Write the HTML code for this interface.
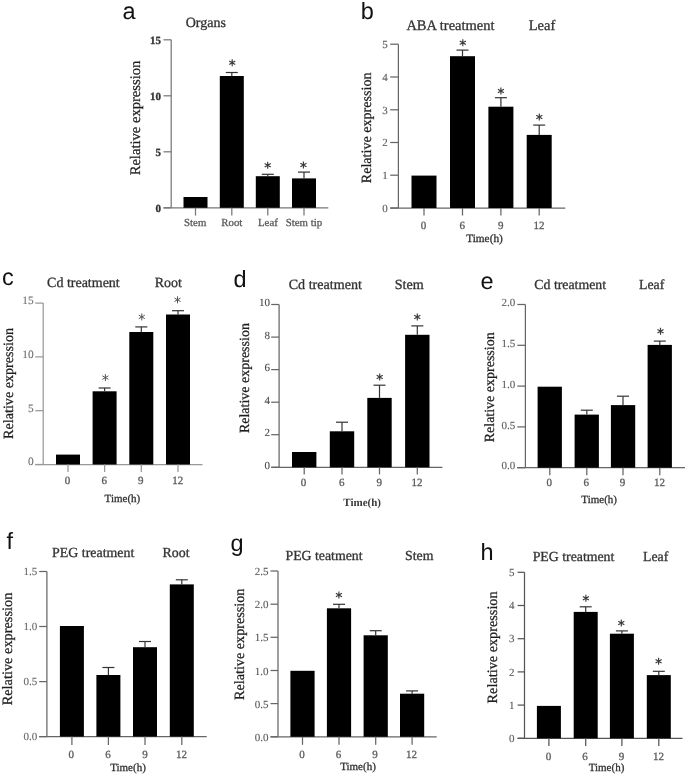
<!DOCTYPE html>
<html><head><meta charset="utf-8"><title>Figure</title>
<style>html,body{margin:0;padding:0;background:#fff;} svg{display:block;will-change:transform;} text{text-rendering:geometricPrecision;}</style></head>
<body><svg width="685" height="775" viewBox="0 0 685 775">
<rect width="685" height="775" fill="#fff"/>
<text x="122.6" y="19.4" font-family="&quot;Liberation Sans&quot;, sans-serif" font-size="23.5" font-weight="normal" text-anchor="start" fill="#111" stroke="#111" stroke-width="0" >a</text>
<text x="205.8" y="27.2" font-family="&quot;Liberation Serif&quot;, serif" font-size="14" font-weight="normal" text-anchor="middle" fill="#333" stroke="#333" stroke-width="0.3" >Organs</text>
<line x1="163.5" y1="207.8" x2="171.2" y2="207.8" stroke="#777" stroke-width="1.25"/>
<text x="160.9" y="211.5" font-family="&quot;Liberation Serif&quot;, serif" font-size="11" font-weight="bold" text-anchor="end" fill="#333" stroke="#333" stroke-width="0.3" >0</text>
<line x1="163.5" y1="151.8" x2="171.2" y2="151.8" stroke="#777" stroke-width="1.25"/>
<text x="160.9" y="155.5" font-family="&quot;Liberation Serif&quot;, serif" font-size="11" font-weight="bold" text-anchor="end" fill="#333" stroke="#333" stroke-width="0.3" >5</text>
<line x1="163.5" y1="95.8" x2="171.2" y2="95.8" stroke="#777" stroke-width="1.25"/>
<text x="160.9" y="99.5" font-family="&quot;Liberation Serif&quot;, serif" font-size="11" font-weight="bold" text-anchor="end" fill="#333" stroke="#333" stroke-width="0.3" >10</text>
<line x1="163.5" y1="39.8" x2="171.2" y2="39.8" stroke="#777" stroke-width="1.25"/>
<text x="160.9" y="43.5" font-family="&quot;Liberation Serif&quot;, serif" font-size="11" font-weight="bold" text-anchor="end" fill="#333" stroke="#333" stroke-width="0.3" >15</text>
<line x1="171.2" y1="39.8" x2="171.2" y2="207.8" stroke="#777" stroke-width="1.25"/>
<line x1="163.5" y1="207.8" x2="328.3" y2="207.8" stroke="#777" stroke-width="1.25"/>
<rect x="183.5" y="197.0" width="24.0" height="10.8" fill="#000"/>
<line x1="195.5" y1="207.8" x2="195.5" y2="215.6" stroke="#777" stroke-width="1.25"/>
<rect x="219.8" y="76.0" width="24.0" height="131.8" fill="#000"/>
<line x1="231.8" y1="72.5" x2="231.8" y2="76.0" stroke="#333" stroke-width="1.2"/>
<line x1="225.8" y1="72.5" x2="237.8" y2="72.5" stroke="#333" stroke-width="1.2"/>
<path d="M232.20 66.30L232.20 59.30M229.17 64.55L235.23 61.05M229.17 61.05L235.23 64.55" stroke="#3a3a3a" stroke-width="1.15" fill="none"/>
<line x1="231.8" y1="207.8" x2="231.8" y2="215.6" stroke="#777" stroke-width="1.25"/>
<rect x="255.8" y="176.2" width="24.0" height="31.6" fill="#000"/>
<line x1="267.8" y1="174.3" x2="267.8" y2="176.2" stroke="#333" stroke-width="1.2"/>
<line x1="261.8" y1="174.3" x2="273.8" y2="174.3" stroke="#333" stroke-width="1.2"/>
<path d="M267.70 168.80L267.70 161.80M264.67 167.05L270.73 163.55M264.67 163.55L270.73 167.05" stroke="#3a3a3a" stroke-width="1.15" fill="none"/>
<line x1="267.8" y1="207.8" x2="267.8" y2="215.6" stroke="#777" stroke-width="1.25"/>
<rect x="292.0" y="178.4" width="24.0" height="29.4" fill="#000"/>
<line x1="304.0" y1="172.1" x2="304.0" y2="178.4" stroke="#333" stroke-width="1.2"/>
<line x1="298.0" y1="172.1" x2="310.0" y2="172.1" stroke="#333" stroke-width="1.2"/>
<path d="M303.40 168.50L303.40 161.50M300.37 166.75L306.43 163.25M300.37 163.25L306.43 166.75" stroke="#3a3a3a" stroke-width="1.15" fill="none"/>
<line x1="304.0" y1="207.8" x2="304.0" y2="215.6" stroke="#777" stroke-width="1.25"/>
<text x="195.2" y="225.8" font-family="&quot;Liberation Serif&quot;, serif" font-size="10.8" font-weight="normal" text-anchor="middle" fill="#5a5a5a" stroke="#5a5a5a" stroke-width="0.3" >Stem</text>
<text x="231.8" y="225.8" font-family="&quot;Liberation Serif&quot;, serif" font-size="10.8" font-weight="normal" text-anchor="middle" fill="#5a5a5a" stroke="#5a5a5a" stroke-width="0.3" >Root</text>
<text x="267.9" y="225.8" font-family="&quot;Liberation Serif&quot;, serif" font-size="10.8" font-weight="normal" text-anchor="middle" fill="#5a5a5a" stroke="#5a5a5a" stroke-width="0.3" >Leaf</text>
<text x="303.9" y="225.8" font-family="&quot;Liberation Serif&quot;, serif" font-size="10.8" font-weight="normal" text-anchor="middle" fill="#5a5a5a" stroke="#5a5a5a" stroke-width="0.3" >Stem tip</text>
<text x="0" y="0" font-family="&quot;Liberation Serif&quot;, serif" font-size="14.6" text-anchor="middle" fill="#1e1e1e" stroke="#1e1e1e" stroke-width="0.25" transform="translate(139.9,118.0) rotate(-90)">Relative expression</text>
<text x="360.8" y="18.5" font-family="&quot;Liberation Sans&quot;, sans-serif" font-size="23.5" font-weight="normal" text-anchor="start" fill="#111" stroke="#111" stroke-width="0" >b</text>
<text x="450.5" y="29.6" font-family="&quot;Liberation Serif&quot;, serif" font-size="14.5" font-weight="normal" text-anchor="middle" fill="#333" stroke="#333" stroke-width="0.3" >ABA treatment</text>
<text x="542.0" y="29.6" font-family="&quot;Liberation Serif&quot;, serif" font-size="14.5" font-weight="normal" text-anchor="middle" fill="#333" stroke="#333" stroke-width="0.3" >Leaf</text>
<line x1="390.2" y1="208.0" x2="398.4" y2="208.0" stroke="#666" stroke-width="1.25"/>
<text x="387.7" y="211.7" font-family="&quot;Liberation Serif&quot;, serif" font-size="11" font-weight="normal" text-anchor="end" fill="#5a5a5a" stroke="#5a5a5a" stroke-width="0.12" >0</text>
<line x1="390.2" y1="175.2" x2="398.4" y2="175.2" stroke="#666" stroke-width="1.25"/>
<text x="387.7" y="178.9" font-family="&quot;Liberation Serif&quot;, serif" font-size="11" font-weight="normal" text-anchor="end" fill="#5a5a5a" stroke="#5a5a5a" stroke-width="0.12" >1</text>
<line x1="390.2" y1="142.5" x2="398.4" y2="142.5" stroke="#666" stroke-width="1.25"/>
<text x="387.7" y="146.2" font-family="&quot;Liberation Serif&quot;, serif" font-size="11" font-weight="normal" text-anchor="end" fill="#5a5a5a" stroke="#5a5a5a" stroke-width="0.12" >2</text>
<line x1="390.2" y1="109.8" x2="398.4" y2="109.8" stroke="#666" stroke-width="1.25"/>
<text x="387.7" y="113.5" font-family="&quot;Liberation Serif&quot;, serif" font-size="11" font-weight="normal" text-anchor="end" fill="#5a5a5a" stroke="#5a5a5a" stroke-width="0.12" >3</text>
<line x1="390.2" y1="77.0" x2="398.4" y2="77.0" stroke="#666" stroke-width="1.25"/>
<text x="387.7" y="80.7" font-family="&quot;Liberation Serif&quot;, serif" font-size="11" font-weight="normal" text-anchor="end" fill="#5a5a5a" stroke="#5a5a5a" stroke-width="0.12" >4</text>
<line x1="390.2" y1="44.2" x2="398.4" y2="44.2" stroke="#666" stroke-width="1.25"/>
<text x="387.7" y="48.0" font-family="&quot;Liberation Serif&quot;, serif" font-size="11" font-weight="normal" text-anchor="end" fill="#5a5a5a" stroke="#5a5a5a" stroke-width="0.12" >5</text>
<line x1="398.4" y1="44.2" x2="398.4" y2="208.0" stroke="#666" stroke-width="1.25"/>
<line x1="390.2" y1="208.0" x2="565.3" y2="208.0" stroke="#666" stroke-width="1.25"/>
<rect x="411.5" y="175.6" width="25.0" height="32.4" fill="#000"/>
<line x1="424.0" y1="208.0" x2="424.0" y2="215.5" stroke="#666" stroke-width="1.25"/>
<rect x="450.0" y="56.2" width="25.0" height="151.8" fill="#000"/>
<line x1="462.5" y1="50.1" x2="462.5" y2="56.2" stroke="#333" stroke-width="1.2"/>
<line x1="456.5" y1="50.1" x2="468.5" y2="50.1" stroke="#333" stroke-width="1.2"/>
<path d="M462.80 46.20L462.80 39.20M459.77 44.45L465.83 40.95M459.77 40.95L465.83 44.45" stroke="#3a3a3a" stroke-width="1.15" fill="none"/>
<line x1="462.5" y1="208.0" x2="462.5" y2="215.5" stroke="#666" stroke-width="1.25"/>
<rect x="488.4" y="106.7" width="25.0" height="101.3" fill="#000"/>
<line x1="500.9" y1="97.7" x2="500.9" y2="106.7" stroke="#333" stroke-width="1.2"/>
<line x1="494.9" y1="97.7" x2="506.9" y2="97.7" stroke="#333" stroke-width="1.2"/>
<path d="M500.90 94.50L500.90 87.50M497.87 92.75L503.93 89.25M497.87 89.25L503.93 92.75" stroke="#3a3a3a" stroke-width="1.15" fill="none"/>
<line x1="500.9" y1="208.0" x2="500.9" y2="215.5" stroke="#666" stroke-width="1.25"/>
<rect x="526.7" y="134.9" width="25.0" height="73.1" fill="#000"/>
<line x1="539.2" y1="125.1" x2="539.2" y2="134.9" stroke="#333" stroke-width="1.2"/>
<line x1="533.2" y1="125.1" x2="545.2" y2="125.1" stroke="#333" stroke-width="1.2"/>
<path d="M539.30 120.50L539.30 113.50M536.27 118.75L542.33 115.25M536.27 115.25L542.33 118.75" stroke="#3a3a3a" stroke-width="1.15" fill="none"/>
<line x1="539.2" y1="208.0" x2="539.2" y2="215.5" stroke="#666" stroke-width="1.25"/>
<text x="423.5" y="229.0" font-family="&quot;Liberation Serif&quot;, serif" font-size="11" font-weight="normal" text-anchor="middle" fill="#5a5a5a" stroke="#5a5a5a" stroke-width="0.3" >0</text>
<text x="462.3" y="229.0" font-family="&quot;Liberation Serif&quot;, serif" font-size="11" font-weight="normal" text-anchor="middle" fill="#5a5a5a" stroke="#5a5a5a" stroke-width="0.3" >6</text>
<text x="500.7" y="229.0" font-family="&quot;Liberation Serif&quot;, serif" font-size="11" font-weight="normal" text-anchor="middle" fill="#5a5a5a" stroke="#5a5a5a" stroke-width="0.3" >9</text>
<text x="539.0" y="229.0" font-family="&quot;Liberation Serif&quot;, serif" font-size="11" font-weight="normal" text-anchor="middle" fill="#5a5a5a" stroke="#5a5a5a" stroke-width="0.3" >12</text>
<text x="484.5" y="242.0" font-family="&quot;Liberation Serif&quot;, serif" font-size="11.3" font-weight="normal" text-anchor="middle" fill="#333" stroke="#333" stroke-width="0.3" >Time(h)</text>
<text x="0" y="0" font-family="&quot;Liberation Serif&quot;, serif" font-size="14.1" text-anchor="middle" fill="#1e1e1e" stroke="#1e1e1e" stroke-width="0.25" transform="translate(371.1,127.9) rotate(-90)">Relative expression</text>
<text x="2.1" y="285.1" font-family="&quot;Liberation Sans&quot;, sans-serif" font-size="23.5" font-weight="normal" text-anchor="start" fill="#111" stroke="#111" stroke-width="0" >c</text>
<text x="83.4" y="287.1" font-family="&quot;Liberation Serif&quot;, serif" font-size="14" font-weight="normal" text-anchor="middle" fill="#333" stroke="#333" stroke-width="0.3" >Cd treatment</text>
<text x="168.3" y="287.1" font-family="&quot;Liberation Serif&quot;, serif" font-size="14" font-weight="normal" text-anchor="middle" fill="#333" stroke="#333" stroke-width="0.3" >Root</text>
<line x1="35.2" y1="464.5" x2="43.2" y2="464.5" stroke="#999" stroke-width="1.25"/>
<text x="33.7" y="465.3" font-family="&quot;Liberation Serif&quot;, serif" font-size="11.4" font-weight="normal" text-anchor="end" fill="#707070" stroke="#707070" stroke-width="0.12" >0</text>
<line x1="35.2" y1="410.7" x2="43.2" y2="410.7" stroke="#999" stroke-width="1.25"/>
<text x="33.7" y="411.5" font-family="&quot;Liberation Serif&quot;, serif" font-size="11.4" font-weight="normal" text-anchor="end" fill="#707070" stroke="#707070" stroke-width="0.12" >5</text>
<line x1="35.2" y1="356.9" x2="43.2" y2="356.9" stroke="#999" stroke-width="1.25"/>
<text x="33.7" y="357.7" font-family="&quot;Liberation Serif&quot;, serif" font-size="11.4" font-weight="normal" text-anchor="end" fill="#707070" stroke="#707070" stroke-width="0.12" >10</text>
<line x1="35.2" y1="303.1" x2="43.2" y2="303.1" stroke="#999" stroke-width="1.25"/>
<text x="33.7" y="303.9" font-family="&quot;Liberation Serif&quot;, serif" font-size="11.4" font-weight="normal" text-anchor="end" fill="#707070" stroke="#707070" stroke-width="0.12" >15</text>
<line x1="43.2" y1="303.1" x2="43.2" y2="464.5" stroke="#999" stroke-width="1.25"/>
<line x1="35.2" y1="464.5" x2="202.5" y2="464.5" stroke="#999" stroke-width="1.25"/>
<rect x="56.0" y="454.6" width="24.0" height="9.9" fill="#000"/>
<line x1="68.0" y1="464.5" x2="68.0" y2="472.0" stroke="#999" stroke-width="1.25"/>
<rect x="92.6" y="391.3" width="24.0" height="73.2" fill="#000"/>
<line x1="104.6" y1="388.0" x2="104.6" y2="391.3" stroke="#333" stroke-width="1.2"/>
<line x1="98.6" y1="388.0" x2="110.6" y2="388.0" stroke="#333" stroke-width="1.2"/>
<path d="M105.40 381.10L105.40 374.10M102.37 379.35L108.43 375.85M102.37 375.85L108.43 379.35" stroke="#555" stroke-width="1.0" fill="none"/>
<line x1="104.6" y1="464.5" x2="104.6" y2="472.0" stroke="#999" stroke-width="1.25"/>
<rect x="129.3" y="332.0" width="24.0" height="132.5" fill="#000"/>
<line x1="141.3" y1="326.9" x2="141.3" y2="332.0" stroke="#333" stroke-width="1.2"/>
<line x1="135.3" y1="326.9" x2="147.3" y2="326.9" stroke="#333" stroke-width="1.2"/>
<path d="M141.80 320.40L141.80 313.40M138.77 318.65L144.83 315.15M138.77 315.15L144.83 318.65" stroke="#555" stroke-width="1.0" fill="none"/>
<line x1="141.3" y1="464.5" x2="141.3" y2="472.0" stroke="#999" stroke-width="1.25"/>
<rect x="166.0" y="314.5" width="24.0" height="150.0" fill="#000"/>
<line x1="178.0" y1="310.7" x2="178.0" y2="314.5" stroke="#333" stroke-width="1.2"/>
<line x1="172.0" y1="310.7" x2="184.0" y2="310.7" stroke="#333" stroke-width="1.2"/>
<path d="M177.50 303.30L177.50 296.30M174.47 301.55L180.53 298.05M174.47 298.05L180.53 301.55" stroke="#555" stroke-width="1.0" fill="none"/>
<line x1="178.0" y1="464.5" x2="178.0" y2="472.0" stroke="#999" stroke-width="1.25"/>
<text x="67.6" y="484.3" font-family="&quot;Liberation Serif&quot;, serif" font-size="11" font-weight="normal" text-anchor="middle" fill="#5a5a5a" stroke="#5a5a5a" stroke-width="0.3" >0</text>
<text x="104.3" y="484.3" font-family="&quot;Liberation Serif&quot;, serif" font-size="11" font-weight="normal" text-anchor="middle" fill="#5a5a5a" stroke="#5a5a5a" stroke-width="0.3" >6</text>
<text x="140.8" y="484.3" font-family="&quot;Liberation Serif&quot;, serif" font-size="11" font-weight="normal" text-anchor="middle" fill="#5a5a5a" stroke="#5a5a5a" stroke-width="0.3" >9</text>
<text x="177.8" y="484.3" font-family="&quot;Liberation Serif&quot;, serif" font-size="11" font-weight="normal" text-anchor="middle" fill="#5a5a5a" stroke="#5a5a5a" stroke-width="0.3" >12</text>
<text x="122.4" y="502.3" font-family="&quot;Liberation Serif&quot;, serif" font-size="11" font-weight="normal" text-anchor="middle" fill="#333" stroke="#333" stroke-width="0.3" >Time(h)</text>
<text x="0" y="0" font-family="&quot;Liberation Serif&quot;, serif" font-size="14.15" text-anchor="middle" fill="#1e1e1e" stroke="#1e1e1e" stroke-width="0.25" transform="translate(12.7,383.4) rotate(-90)">Relative expression</text>
<text x="233.6" y="287.2" font-family="&quot;Liberation Sans&quot;, sans-serif" font-size="23.5" font-weight="normal" text-anchor="start" fill="#111" stroke="#111" stroke-width="0" >d</text>
<text x="325.3" y="289.3" font-family="&quot;Liberation Serif&quot;, serif" font-size="14.1" font-weight="normal" text-anchor="middle" fill="#333" stroke="#333" stroke-width="0.3" >Cd treatment</text>
<text x="409.2" y="289.3" font-family="&quot;Liberation Serif&quot;, serif" font-size="14.1" font-weight="normal" text-anchor="middle" fill="#333" stroke="#333" stroke-width="0.3" >Stem</text>
<line x1="271.2" y1="467.3" x2="279.1" y2="467.3" stroke="#666" stroke-width="1.25"/>
<text x="269.9" y="468.7" font-family="&quot;Liberation Serif&quot;, serif" font-size="11" font-weight="normal" text-anchor="end" fill="#4a4a4a" stroke="#4a4a4a" stroke-width="0.12" >0</text>
<line x1="271.2" y1="434.7" x2="279.1" y2="434.7" stroke="#666" stroke-width="1.25"/>
<text x="269.9" y="436.1" font-family="&quot;Liberation Serif&quot;, serif" font-size="11" font-weight="normal" text-anchor="end" fill="#4a4a4a" stroke="#4a4a4a" stroke-width="0.12" >2</text>
<line x1="271.2" y1="402.2" x2="279.1" y2="402.2" stroke="#666" stroke-width="1.25"/>
<text x="269.9" y="403.6" font-family="&quot;Liberation Serif&quot;, serif" font-size="11" font-weight="normal" text-anchor="end" fill="#4a4a4a" stroke="#4a4a4a" stroke-width="0.12" >4</text>
<line x1="271.2" y1="369.6" x2="279.1" y2="369.6" stroke="#666" stroke-width="1.25"/>
<text x="269.9" y="371.0" font-family="&quot;Liberation Serif&quot;, serif" font-size="11" font-weight="normal" text-anchor="end" fill="#4a4a4a" stroke="#4a4a4a" stroke-width="0.12" >6</text>
<line x1="271.2" y1="337.1" x2="279.1" y2="337.1" stroke="#666" stroke-width="1.25"/>
<text x="269.9" y="338.5" font-family="&quot;Liberation Serif&quot;, serif" font-size="11" font-weight="normal" text-anchor="end" fill="#4a4a4a" stroke="#4a4a4a" stroke-width="0.12" >8</text>
<line x1="271.2" y1="304.5" x2="279.1" y2="304.5" stroke="#666" stroke-width="1.25"/>
<text x="269.9" y="305.9" font-family="&quot;Liberation Serif&quot;, serif" font-size="11" font-weight="normal" text-anchor="end" fill="#4a4a4a" stroke="#4a4a4a" stroke-width="0.12" >10</text>
<line x1="279.1" y1="304.5" x2="279.1" y2="467.3" stroke="#666" stroke-width="1.25"/>
<line x1="271.2" y1="467.3" x2="442.4" y2="467.3" stroke="#666" stroke-width="1.25"/>
<rect x="292.0" y="452.0" width="24.4" height="15.3" fill="#000"/>
<line x1="304.2" y1="467.3" x2="304.2" y2="474.4" stroke="#666" stroke-width="1.25"/>
<rect x="329.8" y="431.3" width="24.4" height="36.0" fill="#000"/>
<line x1="342.0" y1="422.2" x2="342.0" y2="431.3" stroke="#333" stroke-width="1.2"/>
<line x1="336.0" y1="422.2" x2="348.0" y2="422.2" stroke="#333" stroke-width="1.2"/>
<line x1="342.0" y1="467.3" x2="342.0" y2="474.4" stroke="#666" stroke-width="1.25"/>
<rect x="367.3" y="397.9" width="24.4" height="69.4" fill="#000"/>
<line x1="379.5" y1="385.2" x2="379.5" y2="397.9" stroke="#333" stroke-width="1.2"/>
<line x1="373.5" y1="385.2" x2="385.5" y2="385.2" stroke="#333" stroke-width="1.2"/>
<path d="M379.70 380.60L379.70 373.60M376.67 378.85L382.73 375.35M376.67 375.35L382.73 378.85" stroke="#3a3a3a" stroke-width="1.15" fill="none"/>
<line x1="379.5" y1="467.3" x2="379.5" y2="474.4" stroke="#666" stroke-width="1.25"/>
<rect x="405.1" y="334.8" width="24.4" height="132.5" fill="#000"/>
<line x1="417.3" y1="325.9" x2="417.3" y2="334.8" stroke="#333" stroke-width="1.2"/>
<line x1="411.3" y1="325.9" x2="423.3" y2="325.9" stroke="#333" stroke-width="1.2"/>
<path d="M417.30 320.40L417.30 313.40M414.27 318.65L420.33 315.15M414.27 315.15L420.33 318.65" stroke="#3a3a3a" stroke-width="1.15" fill="none"/>
<line x1="417.3" y1="467.3" x2="417.3" y2="474.4" stroke="#666" stroke-width="1.25"/>
<text x="303.5" y="485.8" font-family="&quot;Liberation Serif&quot;, serif" font-size="11" font-weight="normal" text-anchor="middle" fill="#5a5a5a" stroke="#5a5a5a" stroke-width="0.3" >0</text>
<text x="341.8" y="485.8" font-family="&quot;Liberation Serif&quot;, serif" font-size="11" font-weight="normal" text-anchor="middle" fill="#5a5a5a" stroke="#5a5a5a" stroke-width="0.3" >6</text>
<text x="379.3" y="485.8" font-family="&quot;Liberation Serif&quot;, serif" font-size="11" font-weight="normal" text-anchor="middle" fill="#5a5a5a" stroke="#5a5a5a" stroke-width="0.3" >9</text>
<text x="416.9" y="485.8" font-family="&quot;Liberation Serif&quot;, serif" font-size="11" font-weight="normal" text-anchor="middle" fill="#5a5a5a" stroke="#5a5a5a" stroke-width="0.3" >12</text>
<text x="362.2" y="505.7" font-family="&quot;Liberation Serif&quot;, serif" font-size="11" font-weight="bold" text-anchor="middle" fill="#3a3a3a" stroke="#3a3a3a" stroke-width="0" >Time(h)</text>
<text x="0" y="0" font-family="&quot;Liberation Serif&quot;, serif" font-size="14.0" text-anchor="middle" fill="#1e1e1e" stroke="#1e1e1e" stroke-width="0.25" transform="translate(249.3,378.1) rotate(-90)">Relative expression</text>
<text x="480.5" y="288.9" font-family="&quot;Liberation Sans&quot;, sans-serif" font-size="23.5" font-weight="normal" text-anchor="start" fill="#111" stroke="#111" stroke-width="0" >e</text>
<text x="570.2" y="288.9" font-family="&quot;Liberation Serif&quot;, serif" font-size="13.8" font-weight="normal" text-anchor="middle" fill="#333" stroke="#333" stroke-width="0.3" >Cd treatment</text>
<text x="651.6" y="288.9" font-family="&quot;Liberation Serif&quot;, serif" font-size="13.8" font-weight="normal" text-anchor="middle" fill="#333" stroke="#333" stroke-width="0.3" >Leaf</text>
<line x1="517.3" y1="467.7" x2="525.4" y2="467.7" stroke="#666" stroke-width="1.25"/>
<text x="515.3" y="469.4" font-family="&quot;Liberation Serif&quot;, serif" font-size="11" font-weight="normal" text-anchor="end" fill="#606060" stroke="#606060" stroke-width="0.12" >0.0</text>
<line x1="517.3" y1="426.9" x2="525.4" y2="426.9" stroke="#666" stroke-width="1.25"/>
<text x="515.3" y="428.6" font-family="&quot;Liberation Serif&quot;, serif" font-size="11" font-weight="normal" text-anchor="end" fill="#606060" stroke="#606060" stroke-width="0.12" >0.5</text>
<line x1="517.3" y1="386.1" x2="525.4" y2="386.1" stroke="#666" stroke-width="1.25"/>
<text x="515.3" y="387.8" font-family="&quot;Liberation Serif&quot;, serif" font-size="11" font-weight="normal" text-anchor="end" fill="#606060" stroke="#606060" stroke-width="0.12" >1.0</text>
<line x1="517.3" y1="345.3" x2="525.4" y2="345.3" stroke="#666" stroke-width="1.25"/>
<text x="515.3" y="347.0" font-family="&quot;Liberation Serif&quot;, serif" font-size="11" font-weight="normal" text-anchor="end" fill="#606060" stroke="#606060" stroke-width="0.12" >1.5</text>
<line x1="517.3" y1="304.5" x2="525.4" y2="304.5" stroke="#666" stroke-width="1.25"/>
<text x="515.3" y="306.2" font-family="&quot;Liberation Serif&quot;, serif" font-size="11" font-weight="normal" text-anchor="end" fill="#606060" stroke="#606060" stroke-width="0.12" >2.0</text>
<line x1="525.4" y1="304.5" x2="525.4" y2="467.7" stroke="#666" stroke-width="1.25"/>
<line x1="517.3" y1="467.7" x2="685.0" y2="467.7" stroke="#666" stroke-width="1.25"/>
<rect x="537.6" y="386.7" width="24.3" height="81.0" fill="#000"/>
<line x1="549.8" y1="467.7" x2="549.8" y2="475.3" stroke="#666" stroke-width="1.25"/>
<rect x="574.6" y="414.6" width="24.3" height="53.1" fill="#000"/>
<line x1="586.8" y1="410.2" x2="586.8" y2="414.6" stroke="#333" stroke-width="1.2"/>
<line x1="580.8" y1="410.2" x2="592.8" y2="410.2" stroke="#333" stroke-width="1.2"/>
<line x1="586.8" y1="467.7" x2="586.8" y2="475.3" stroke="#666" stroke-width="1.25"/>
<rect x="610.9" y="405.1" width="24.3" height="62.6" fill="#000"/>
<line x1="623.0" y1="396.2" x2="623.0" y2="405.1" stroke="#333" stroke-width="1.2"/>
<line x1="617.0" y1="396.2" x2="629.0" y2="396.2" stroke="#333" stroke-width="1.2"/>
<line x1="623.0" y1="467.7" x2="623.0" y2="475.3" stroke="#666" stroke-width="1.25"/>
<rect x="647.6" y="344.9" width="24.3" height="122.8" fill="#000"/>
<line x1="659.8" y1="341.1" x2="659.8" y2="344.9" stroke="#333" stroke-width="1.2"/>
<line x1="653.8" y1="341.1" x2="665.8" y2="341.1" stroke="#333" stroke-width="1.2"/>
<path d="M660.50 334.80L660.50 327.80M657.47 333.05L663.53 329.55M657.47 329.55L663.53 333.05" stroke="#3a3a3a" stroke-width="1.15" fill="none"/>
<line x1="659.8" y1="467.7" x2="659.8" y2="475.3" stroke="#666" stroke-width="1.25"/>
<text x="549.3" y="486.2" font-family="&quot;Liberation Serif&quot;, serif" font-size="11" font-weight="normal" text-anchor="middle" fill="#5a5a5a" stroke="#5a5a5a" stroke-width="0.3" >0</text>
<text x="586.3" y="486.2" font-family="&quot;Liberation Serif&quot;, serif" font-size="11" font-weight="normal" text-anchor="middle" fill="#5a5a5a" stroke="#5a5a5a" stroke-width="0.3" >6</text>
<text x="622.4" y="486.2" font-family="&quot;Liberation Serif&quot;, serif" font-size="11" font-weight="normal" text-anchor="middle" fill="#5a5a5a" stroke="#5a5a5a" stroke-width="0.3" >9</text>
<text x="659.4" y="486.2" font-family="&quot;Liberation Serif&quot;, serif" font-size="11" font-weight="normal" text-anchor="middle" fill="#5a5a5a" stroke="#5a5a5a" stroke-width="0.3" >12</text>
<text x="599.2" y="503.3" font-family="&quot;Liberation Serif&quot;, serif" font-size="11" font-weight="normal" text-anchor="middle" fill="#333" stroke="#333" stroke-width="0.3" >Time(h)</text>
<text x="0" y="0" font-family="&quot;Liberation Serif&quot;, serif" font-size="14.0" text-anchor="middle" fill="#1e1e1e" stroke="#1e1e1e" stroke-width="0.25" transform="translate(493.8,387.3) rotate(-90)">Relative expression</text>
<text x="6.6" y="548.6" font-family="&quot;Liberation Sans&quot;, sans-serif" font-size="23.5" font-weight="normal" text-anchor="start" fill="#111" stroke="#111" stroke-width="0" >f</text>
<text x="93.2" y="556.8" font-family="&quot;Liberation Serif&quot;, serif" font-size="13.9" font-weight="normal" text-anchor="middle" fill="#333" stroke="#333" stroke-width="0.3" >PEG treatment</text>
<text x="176.0" y="556.8" font-family="&quot;Liberation Serif&quot;, serif" font-size="13.9" font-weight="normal" text-anchor="middle" fill="#333" stroke="#333" stroke-width="0.3" >Root</text>
<line x1="39.2" y1="736.6" x2="46.9" y2="736.6" stroke="#666" stroke-width="1.25"/>
<text x="37.2" y="740.3" font-family="&quot;Liberation Serif&quot;, serif" font-size="11" font-weight="normal" text-anchor="end" fill="#6a6a6a" stroke="#6a6a6a" stroke-width="0.12" >0.0</text>
<line x1="39.2" y1="681.6" x2="46.9" y2="681.6" stroke="#666" stroke-width="1.25"/>
<text x="37.2" y="685.3" font-family="&quot;Liberation Serif&quot;, serif" font-size="11" font-weight="normal" text-anchor="end" fill="#6a6a6a" stroke="#6a6a6a" stroke-width="0.12" >0.5</text>
<line x1="39.2" y1="626.5" x2="46.9" y2="626.5" stroke="#666" stroke-width="1.25"/>
<text x="37.2" y="630.2" font-family="&quot;Liberation Serif&quot;, serif" font-size="11" font-weight="normal" text-anchor="end" fill="#6a6a6a" stroke="#6a6a6a" stroke-width="0.12" >1.0</text>
<line x1="39.2" y1="571.5" x2="46.9" y2="571.5" stroke="#666" stroke-width="1.25"/>
<text x="37.2" y="575.2" font-family="&quot;Liberation Serif&quot;, serif" font-size="11" font-weight="normal" text-anchor="end" fill="#6a6a6a" stroke="#6a6a6a" stroke-width="0.12" >1.5</text>
<line x1="46.9" y1="571.5" x2="46.9" y2="736.6" stroke="#666" stroke-width="1.25"/>
<line x1="39.2" y1="736.6" x2="206.7" y2="736.6" stroke="#666" stroke-width="1.25"/>
<rect x="59.9" y="626.0" width="24.0" height="110.6" fill="#000"/>
<line x1="71.9" y1="736.6" x2="71.9" y2="745.0" stroke="#666" stroke-width="1.25"/>
<rect x="96.4" y="675.0" width="24.0" height="61.6" fill="#000"/>
<line x1="108.4" y1="667.5" x2="108.4" y2="675.0" stroke="#333" stroke-width="1.2"/>
<line x1="102.4" y1="667.5" x2="114.4" y2="667.5" stroke="#333" stroke-width="1.2"/>
<line x1="108.4" y1="736.6" x2="108.4" y2="745.0" stroke="#666" stroke-width="1.25"/>
<rect x="133.0" y="647.2" width="24.0" height="89.4" fill="#000"/>
<line x1="145.0" y1="641.5" x2="145.0" y2="647.2" stroke="#333" stroke-width="1.2"/>
<line x1="139.0" y1="641.5" x2="151.0" y2="641.5" stroke="#333" stroke-width="1.2"/>
<line x1="145.0" y1="736.6" x2="145.0" y2="745.0" stroke="#666" stroke-width="1.25"/>
<rect x="169.8" y="584.4" width="24.0" height="152.2" fill="#000"/>
<line x1="181.8" y1="579.8" x2="181.8" y2="584.4" stroke="#333" stroke-width="1.2"/>
<line x1="175.8" y1="579.8" x2="187.8" y2="579.8" stroke="#333" stroke-width="1.2"/>
<line x1="181.8" y1="736.6" x2="181.8" y2="745.0" stroke="#666" stroke-width="1.25"/>
<text x="71.3" y="758.0" font-family="&quot;Liberation Serif&quot;, serif" font-size="11" font-weight="normal" text-anchor="middle" fill="#5a5a5a" stroke="#5a5a5a" stroke-width="0.3" >0</text>
<text x="108.0" y="758.0" font-family="&quot;Liberation Serif&quot;, serif" font-size="11" font-weight="normal" text-anchor="middle" fill="#5a5a5a" stroke="#5a5a5a" stroke-width="0.3" >6</text>
<text x="145.0" y="758.0" font-family="&quot;Liberation Serif&quot;, serif" font-size="11" font-weight="normal" text-anchor="middle" fill="#5a5a5a" stroke="#5a5a5a" stroke-width="0.3" >9</text>
<text x="181.6" y="758.0" font-family="&quot;Liberation Serif&quot;, serif" font-size="11" font-weight="normal" text-anchor="middle" fill="#5a5a5a" stroke="#5a5a5a" stroke-width="0.3" >12</text>
<text x="128.0" y="770.5" font-family="&quot;Liberation Serif&quot;, serif" font-size="11" font-weight="normal" text-anchor="middle" fill="#333" stroke="#333" stroke-width="0.3" >Time(h)</text>
<text x="0" y="0" font-family="&quot;Liberation Serif&quot;, serif" font-size="14.35" text-anchor="middle" fill="#1e1e1e" stroke="#1e1e1e" stroke-width="0.25" transform="translate(12.0,649.0) rotate(-90)">Relative expression</text>
<text x="230.6" y="551.0" font-family="&quot;Liberation Sans&quot;, sans-serif" font-size="23.5" font-weight="normal" text-anchor="start" fill="#111" stroke="#111" stroke-width="0" >g</text>
<text x="324.0" y="559.7" font-family="&quot;Liberation Serif&quot;, serif" font-size="13.8" font-weight="normal" text-anchor="middle" fill="#333" stroke="#333" stroke-width="0.3" >PEG teatment</text>
<text x="419.2" y="559.7" font-family="&quot;Liberation Serif&quot;, serif" font-size="13.8" font-weight="normal" text-anchor="middle" fill="#333" stroke="#333" stroke-width="0.3" >Stem</text>
<line x1="270.5" y1="736.8" x2="278.0" y2="736.8" stroke="#666" stroke-width="1.25"/>
<text x="268.4" y="740.8" font-family="&quot;Liberation Serif&quot;, serif" font-size="11" font-weight="normal" text-anchor="end" fill="#5a5a5a" stroke="#5a5a5a" stroke-width="0.12" >0.0</text>
<line x1="270.5" y1="703.6" x2="278.0" y2="703.6" stroke="#666" stroke-width="1.25"/>
<text x="268.4" y="707.6" font-family="&quot;Liberation Serif&quot;, serif" font-size="11" font-weight="normal" text-anchor="end" fill="#5a5a5a" stroke="#5a5a5a" stroke-width="0.12" >0.5</text>
<line x1="270.5" y1="670.5" x2="278.0" y2="670.5" stroke="#666" stroke-width="1.25"/>
<text x="268.4" y="674.5" font-family="&quot;Liberation Serif&quot;, serif" font-size="11" font-weight="normal" text-anchor="end" fill="#5a5a5a" stroke="#5a5a5a" stroke-width="0.12" >1.0</text>
<line x1="270.5" y1="637.3" x2="278.0" y2="637.3" stroke="#666" stroke-width="1.25"/>
<text x="268.4" y="641.3" font-family="&quot;Liberation Serif&quot;, serif" font-size="11" font-weight="normal" text-anchor="end" fill="#5a5a5a" stroke="#5a5a5a" stroke-width="0.12" >1.5</text>
<line x1="270.5" y1="604.2" x2="278.0" y2="604.2" stroke="#666" stroke-width="1.25"/>
<text x="268.4" y="608.2" font-family="&quot;Liberation Serif&quot;, serif" font-size="11" font-weight="normal" text-anchor="end" fill="#5a5a5a" stroke="#5a5a5a" stroke-width="0.12" >2.0</text>
<line x1="270.5" y1="571.0" x2="278.0" y2="571.0" stroke="#666" stroke-width="1.25"/>
<text x="268.4" y="575.0" font-family="&quot;Liberation Serif&quot;, serif" font-size="11" font-weight="normal" text-anchor="end" fill="#5a5a5a" stroke="#5a5a5a" stroke-width="0.12" >2.5</text>
<line x1="278.0" y1="571.0" x2="278.0" y2="736.8" stroke="#666" stroke-width="1.25"/>
<line x1="270.5" y1="736.8" x2="436.7" y2="736.8" stroke="#666" stroke-width="1.25"/>
<rect x="290.4" y="670.8" width="24.2" height="66.0" fill="#000"/>
<line x1="302.5" y1="736.8" x2="302.5" y2="744.8" stroke="#666" stroke-width="1.25"/>
<rect x="326.9" y="608.3" width="24.2" height="128.5" fill="#000"/>
<line x1="339.0" y1="604.3" x2="339.0" y2="608.3" stroke="#333" stroke-width="1.2"/>
<line x1="333.0" y1="604.3" x2="345.0" y2="604.3" stroke="#333" stroke-width="1.2"/>
<path d="M338.90 598.50L338.90 591.50M335.87 596.75L341.93 593.25M335.87 593.25L341.93 596.75" stroke="#3a3a3a" stroke-width="1.15" fill="none"/>
<line x1="339.0" y1="736.8" x2="339.0" y2="744.8" stroke="#666" stroke-width="1.25"/>
<rect x="363.6" y="635.3" width="24.2" height="101.5" fill="#000"/>
<line x1="375.7" y1="630.7" x2="375.7" y2="635.3" stroke="#333" stroke-width="1.2"/>
<line x1="369.7" y1="630.7" x2="381.7" y2="630.7" stroke="#333" stroke-width="1.2"/>
<line x1="375.7" y1="736.8" x2="375.7" y2="744.8" stroke="#666" stroke-width="1.25"/>
<rect x="400.0" y="693.7" width="24.2" height="43.1" fill="#000"/>
<line x1="412.1" y1="690.9" x2="412.1" y2="693.7" stroke="#333" stroke-width="1.2"/>
<line x1="406.1" y1="690.9" x2="418.1" y2="690.9" stroke="#333" stroke-width="1.2"/>
<line x1="412.1" y1="736.8" x2="412.1" y2="744.8" stroke="#666" stroke-width="1.25"/>
<text x="301.9" y="758.1" font-family="&quot;Liberation Serif&quot;, serif" font-size="11" font-weight="normal" text-anchor="middle" fill="#5a5a5a" stroke="#5a5a5a" stroke-width="0.3" >0</text>
<text x="338.5" y="758.1" font-family="&quot;Liberation Serif&quot;, serif" font-size="11" font-weight="normal" text-anchor="middle" fill="#5a5a5a" stroke="#5a5a5a" stroke-width="0.3" >6</text>
<text x="375.0" y="758.1" font-family="&quot;Liberation Serif&quot;, serif" font-size="11" font-weight="normal" text-anchor="middle" fill="#5a5a5a" stroke="#5a5a5a" stroke-width="0.3" >9</text>
<text x="411.6" y="758.1" font-family="&quot;Liberation Serif&quot;, serif" font-size="11" font-weight="normal" text-anchor="middle" fill="#5a5a5a" stroke="#5a5a5a" stroke-width="0.3" >12</text>
<text x="358.0" y="770.0" font-family="&quot;Liberation Serif&quot;, serif" font-size="11" font-weight="normal" text-anchor="middle" fill="#333" stroke="#333" stroke-width="0.3" >Time(h)</text>
<text x="0" y="0" font-family="&quot;Liberation Serif&quot;, serif" font-size="14.2" text-anchor="middle" fill="#1e1e1e" stroke="#1e1e1e" stroke-width="0.25" transform="translate(244.0,644.3) rotate(-90)">Relative expression</text>
<text x="480.4" y="559.5" font-family="&quot;Liberation Sans&quot;, sans-serif" font-size="23.5" font-weight="normal" text-anchor="start" fill="#111" stroke="#111" stroke-width="0" >h</text>
<text x="573.5" y="560.7" font-family="&quot;Liberation Serif&quot;, serif" font-size="13.8" font-weight="normal" text-anchor="middle" fill="#333" stroke="#333" stroke-width="0.3" >PEG treatment</text>
<text x="655.6" y="560.7" font-family="&quot;Liberation Serif&quot;, serif" font-size="13.8" font-weight="normal" text-anchor="middle" fill="#333" stroke="#333" stroke-width="0.3" >Leaf</text>
<line x1="517.6" y1="738.3" x2="524.5" y2="738.3" stroke="#555" stroke-width="1.25"/>
<text x="514.4" y="741.9" font-family="&quot;Liberation Serif&quot;, serif" font-size="11" font-weight="normal" text-anchor="end" fill="#5a5a5a" stroke="#5a5a5a" stroke-width="0.12" >0</text>
<line x1="517.6" y1="705.1" x2="524.5" y2="705.1" stroke="#555" stroke-width="1.25"/>
<text x="514.4" y="708.7" font-family="&quot;Liberation Serif&quot;, serif" font-size="11" font-weight="normal" text-anchor="end" fill="#5a5a5a" stroke="#5a5a5a" stroke-width="0.12" >1</text>
<line x1="517.6" y1="671.9" x2="524.5" y2="671.9" stroke="#555" stroke-width="1.25"/>
<text x="514.4" y="675.5" font-family="&quot;Liberation Serif&quot;, serif" font-size="11" font-weight="normal" text-anchor="end" fill="#5a5a5a" stroke="#5a5a5a" stroke-width="0.12" >2</text>
<line x1="517.6" y1="638.7" x2="524.5" y2="638.7" stroke="#555" stroke-width="1.25"/>
<text x="514.4" y="642.3" font-family="&quot;Liberation Serif&quot;, serif" font-size="11" font-weight="normal" text-anchor="end" fill="#5a5a5a" stroke="#5a5a5a" stroke-width="0.12" >3</text>
<line x1="517.6" y1="605.5" x2="524.5" y2="605.5" stroke="#555" stroke-width="1.25"/>
<text x="514.4" y="609.1" font-family="&quot;Liberation Serif&quot;, serif" font-size="11" font-weight="normal" text-anchor="end" fill="#5a5a5a" stroke="#5a5a5a" stroke-width="0.12" >4</text>
<line x1="517.6" y1="572.3" x2="524.5" y2="572.3" stroke="#555" stroke-width="1.25"/>
<text x="514.4" y="575.9" font-family="&quot;Liberation Serif&quot;, serif" font-size="11" font-weight="normal" text-anchor="end" fill="#5a5a5a" stroke="#5a5a5a" stroke-width="0.12" >5</text>
<line x1="524.5" y1="572.3" x2="524.5" y2="738.3" stroke="#555" stroke-width="1.25"/>
<line x1="517.6" y1="738.3" x2="682.5" y2="738.3" stroke="#555" stroke-width="1.25"/>
<rect x="536.9" y="705.9" width="24.0" height="32.4" fill="#000"/>
<line x1="548.9" y1="738.3" x2="548.9" y2="746.0" stroke="#555" stroke-width="1.25"/>
<rect x="573.7" y="611.9" width="24.0" height="126.4" fill="#000"/>
<line x1="585.7" y1="606.8" x2="585.7" y2="611.9" stroke="#333" stroke-width="1.2"/>
<line x1="579.7" y1="606.8" x2="591.7" y2="606.8" stroke="#333" stroke-width="1.2"/>
<path d="M585.90 601.70L585.90 594.70M582.87 599.95L588.93 596.45M582.87 596.45L588.93 599.95" stroke="#3a3a3a" stroke-width="1.15" fill="none"/>
<line x1="585.7" y1="738.3" x2="585.7" y2="746.0" stroke="#555" stroke-width="1.25"/>
<rect x="609.9" y="633.7" width="24.0" height="104.6" fill="#000"/>
<line x1="621.9" y1="630.9" x2="621.9" y2="633.7" stroke="#333" stroke-width="1.2"/>
<line x1="615.9" y1="630.9" x2="627.9" y2="630.9" stroke="#333" stroke-width="1.2"/>
<path d="M621.30 626.50L621.30 619.50M618.27 624.75L624.33 621.25M618.27 621.25L624.33 624.75" stroke="#3a3a3a" stroke-width="1.15" fill="none"/>
<line x1="621.9" y1="738.3" x2="621.9" y2="746.0" stroke="#555" stroke-width="1.25"/>
<rect x="646.8" y="675.1" width="24.0" height="63.2" fill="#000"/>
<line x1="658.8" y1="671.3" x2="658.8" y2="675.1" stroke="#333" stroke-width="1.2"/>
<line x1="652.8" y1="671.3" x2="664.8" y2="671.3" stroke="#333" stroke-width="1.2"/>
<path d="M658.60 664.80L658.60 657.80M655.57 663.05L661.63 659.55M655.57 659.55L661.63 663.05" stroke="#3a3a3a" stroke-width="1.15" fill="none"/>
<line x1="658.8" y1="738.3" x2="658.8" y2="746.0" stroke="#555" stroke-width="1.25"/>
<text x="548.4" y="759.6" font-family="&quot;Liberation Serif&quot;, serif" font-size="11" font-weight="normal" text-anchor="middle" fill="#5a5a5a" stroke="#5a5a5a" stroke-width="0.3" >0</text>
<text x="585.0" y="759.6" font-family="&quot;Liberation Serif&quot;, serif" font-size="11" font-weight="normal" text-anchor="middle" fill="#5a5a5a" stroke="#5a5a5a" stroke-width="0.3" >6</text>
<text x="621.4" y="759.6" font-family="&quot;Liberation Serif&quot;, serif" font-size="11" font-weight="normal" text-anchor="middle" fill="#5a5a5a" stroke="#5a5a5a" stroke-width="0.3" >9</text>
<text x="658.4" y="759.6" font-family="&quot;Liberation Serif&quot;, serif" font-size="11" font-weight="normal" text-anchor="middle" fill="#5a5a5a" stroke="#5a5a5a" stroke-width="0.3" >12</text>
<text x="606.5" y="770.5" font-family="&quot;Liberation Serif&quot;, serif" font-size="11" font-weight="normal" text-anchor="middle" fill="#333" stroke="#333" stroke-width="0.3" >Time(h)</text>
<text x="0" y="0" font-family="&quot;Liberation Serif&quot;, serif" font-size="14.25" text-anchor="middle" fill="#1e1e1e" stroke="#1e1e1e" stroke-width="0.25" transform="translate(496.9,647.4) rotate(-90)">Relative expression</text>
</svg></body></html>
